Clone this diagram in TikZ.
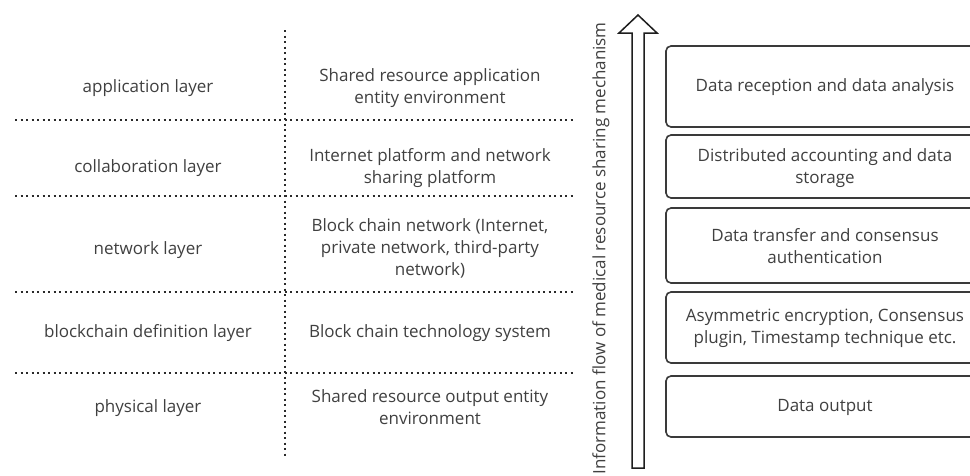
\documentclass[tikz,border=0pt]{standalone}
\usepackage{fontspec}
\setmainfont{Open Sans}
\begin{document}
\begin{tikzpicture}[x=1pt,y=-1pt,
  txt/.style={font=\fontsize{17}{22}\selectfont, text=textgray, inner sep=0pt, align=center},
  dotline/.style={draw=dotgray, line width=2.1pt, dash pattern=on 2.1pt off 3.4pt},
  layerbox/.style={draw=boxgray, line width=1.6pt},
  hollowarrow/.style={draw=arrowgray, line width=1.5pt, fill=white}]
\definecolor{textgray}{HTML}{404040}
\definecolor{dotgray}{HTML}{2A2A2A}
\definecolor{boxgray}{HTML}{3A3A3A}
\definecolor{arrowgray}{HTML}{1E1E1E}
\useasboundingbox (0,0) rectangle (970,475);
\fill[white] (0,0) rectangle (970,475);

% dotted grid
\coordinate (vtop) at (285,30);
\coordinate (vbot) at (285,458);
\draw[dotline] (vtop) -- (vbot);
\coordinate (h1l) at (15,120); \coordinate (h1r) at (575,120);
\coordinate (h2l) at (15,196); \coordinate (h2r) at (575,196);
\coordinate (h3l) at (15,292); \coordinate (h3r) at (575,292);
\coordinate (h4l) at (15,373); \coordinate (h4r) at (575,373);
\draw[dotline] (h1l) -- (h1r);
\draw[dotline] (h2l) -- (h2r);
\draw[dotline] (h3l) -- (h3r);
\draw[dotline] (h4l) -- (h4r);

% left labels
\node[txt] (l1) at (148,88) {application layer};
\node[txt] (l2) at (148,168) {collaboration layer};
\node[txt] (l3) at (148,250) {network layer};
\node[txt] (l4) at (148,333) {blockchain definition layer};
\node[txt] (l5) at (148,408) {physical layer};

% middle descriptions
\node[txt] (m1) at (430,88) {Shared resource application\\entity environment};
\node[txt] (m2) at (430,168) {Internet platform and network\\sharing platform};
\node[txt] (m3) at (430,248) {Block chain network (Internet,\\private network, third-party\\network)};
\node[txt] (m4) at (430,333) {Block chain technology system};
\node[txt] (m5) at (430,407) {Shared resource output entity\\environment};

% hollow arrow
\draw[hollowarrow] (632,468) -- (632,33) -- (619,33) -- (638,15) -- (657,33) -- (644,33) -- (644,468) -- cycle;
\node[txt, rotate=90, anchor=east] (flow) at (601,22) {Information flow of medical resource sharing mechanism};

% right boxes (open on the right, beyond the picture)
\draw[layerbox] (990,46) -- (671,46) arc[start angle=90,end angle=180,radius=5pt] -- (666,122) arc[start angle=180,end angle=270,radius=5pt] -- (990,127);
\draw[layerbox] (990,135) -- (671,135) arc[start angle=90,end angle=180,radius=5pt] -- (666,193) arc[start angle=180,end angle=270,radius=5pt] -- (990,198);
\draw[layerbox] (990,208) -- (671,208) arc[start angle=90,end angle=180,radius=5pt] -- (666,278) arc[start angle=180,end angle=270,radius=5pt] -- (990,283);
\draw[layerbox] (990,292) -- (671,292) arc[start angle=90,end angle=180,radius=5pt] -- (666,358) arc[start angle=180,end angle=270,radius=5pt] -- (990,363);
\draw[layerbox] (990,376) -- (671,376) arc[start angle=90,end angle=180,radius=5pt] -- (666,432) arc[start angle=180,end angle=270,radius=5pt] -- (990,437);
\node[txt] (b1) at (825,87) {Data reception and data analysis};
\node[txt] (b2) at (825,168) {Distributed accounting and data\\storage};
\node[txt] (b3) at (825,246) {Data transfer and consensus\\authentication};
\node[txt] (b4) at (825,328) {Asymmetric encryption, Consensus\\plugin, Timestamp technique etc.};
\node[txt] (b5) at (825,407) {Data output};
\end{tikzpicture}
\end{document}
